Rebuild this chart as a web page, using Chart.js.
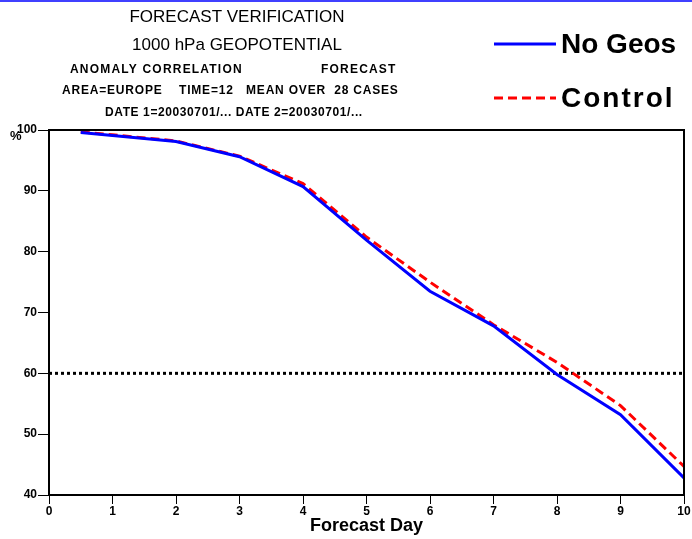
<!DOCTYPE html>
<html>
<head>
<meta charset="utf-8">
<script src="https://cdn.jsdelivr.net/npm/chart.js@4/dist/chart.umd.min.js"></script>
<style>
  body { margin: 0; background: #fff; }
  #wrap { position: relative; width: 692px; height: 539px; }
</style>
</head>
<body>
<div id="wrap"><canvas id="fcChart"></canvas></div>
<script>
// ========= DATA =========
const days = [0.5, 1, 2, 3, 4, 5, 6, 7, 8, 9, 10];
const noGeos = [99.6, 99.1, 98.1, 95.6, 90.7, 81.9, 73.5, 67.8, 59.8, 53.2, 42.8];
const control = [99.7, 99.2, 98.2, 95.7, 91.2, 82.4, 75.0, 68.0, 61.8, 54.7, 44.7];
const seriesNames = ['No Geos', 'Control'];
const xTicks = [0, 1, 2, 3, 4, 5, 6, 7, 8, 9, 10];
const yTicks = [40, 50, 60, 70, 80, 90, 100];
const refLevel = 60;

const FONT = '"Liberation Sans", Arial, sans-serif';

function spaced(ctx, text, x, y, spacing) {
    ctx.letterSpacing = spacing + 'px';
    ctx.fillText(text, x, y);
    ctx.letterSpacing = '0px';
}

// titles, legend, frame and 60% reference line
const decorPlugin = {
    id: 'decor',
    beforeDatasetsDraw(chart) {
        const ctx = chart.ctx;
        const a = chart.chartArea;
        const y60 = chart.scales.y.getPixelForValue(refLevel);
        ctx.save();
        ctx.strokeStyle = '#000';
        ctx.lineWidth = 3;
        ctx.setLineDash([3, 3]);
        ctx.beginPath();
        ctx.moveTo(a.left, y60);
        ctx.lineTo(a.right, y60);
        ctx.stroke();
        ctx.restore();
    },
    afterDraw(chart) {
        const ctx = chart.ctx;
        const a = chart.chartArea;
        ctx.save();
        // top blue rule
        ctx.fillStyle = '#4040ff';
        ctx.fillRect(0, 0, 692, 2);

        // frame
        ctx.strokeStyle = '#000';
        ctx.lineWidth = 2;
        ctx.beginPath();
        ctx.moveTo(a.left, a.top);
        ctx.lineTo(a.right, a.top);
        ctx.lineTo(a.right, a.bottom);
        ctx.stroke();

        ctx.fillStyle = '#000';
        ctx.textBaseline = 'middle';
        ctx.textAlign = 'center';
        ctx.font = '17px ' + FONT;
        ctx.fillText('FORECAST VERIFICATION', 237, 17);
        ctx.fillText('1000 hPa GEOPOTENTIAL', 237, 45);
        ctx.font = 'bold 12px ' + FONT;
        ctx.textAlign = 'left';
        spaced(ctx, 'ANOMALY CORRELATION', 70, 70, 1.2);
        spaced(ctx, 'FORECAST', 321, 70, 1.2);
        spaced(ctx, 'AREA=EUROPE    TIME=12   MEAN OVER  28 CASES', 62, 91, 0.8);
        spaced(ctx, 'DATE 1=20030701/... DATE 2=20030701/...', 105, 113, 0.6);
        ctx.font = 'bold 13px ' + FONT;
        ctx.fillText('%', 10, 136);

        // legend
        const ds = chart.data.datasets;
        const rows = [44, 98];
        const legSpacing = [0, 2];
        ds.forEach((d, i) => {
            ctx.strokeStyle = d.borderColor;
            ctx.lineWidth = 3;
            ctx.setLineDash(d.borderDash || []);
            ctx.beginPath();
            ctx.moveTo(494, rows[i]);
            ctx.lineTo(556, rows[i]);
            ctx.stroke();
            ctx.setLineDash([]);
            ctx.fillStyle = '#000';
            ctx.font = 'bold 28px ' + FONT;
            spaced(ctx, d.label, 561, rows[i] + 1, legSpacing[i]);
        });
        ctx.restore();
    }
};

const ctx = document.getElementById('fcChart').getContext('2d');
const fcChart = new Chart(ctx, {
    type: 'line',
    data: {
        datasets: [{
            label: seriesNames[0],
            data: days.map((d, i) => ({ x: d, y: noGeos[i] })),
            borderColor: '#0000ff',
            borderWidth: 3,
            pointRadius: 0,
            tension: 0
        }, {
            label: seriesNames[1],
            data: days.map((d, i) => ({ x: d, y: control[i] })),
            borderColor: '#ff0000',
            borderWidth: 3,
            borderDash: [9, 5],
            pointRadius: 0,
            tension: 0
        }]
    },
    options: {
        responsive: true,
        maintainAspectRatio: false,
        animation: false,
        layout: { padding: { top: 130, right: 8, left: 0, bottom: 0 } },
        plugins: {
            legend: { display: false },
            tooltip: { enabled: false }
        },
        scales: {
            x: {
                type: 'linear',
                min: 0,
                max: 10,
                afterFit: (s) => { s.height = 44; },
                afterBuildTicks: (s) => { s.ticks = xTicks.map(v => ({ value: v })); },
                border: { display: true, color: '#000', width: 2 },
                grid: { drawOnChartArea: false, drawTicks: true, tickLength: 9, color: '#000', lineWidth: 1 },
                ticks: { color: '#000', padding: 0, maxRotation: 0, font: { family: FONT, size: 12, weight: 'bold' } },
                title: {
                    display: true,
                    text: 'Forecast Day',
                    color: '#000',
                    padding: { top: 0, bottom: 2 },
                    font: { family: FONT, size: 18, weight: 'bold' }
                }
            },
            y: {
                min: 40,
                max: 100,
                afterFit: (s) => { s.width = 49; },
                afterBuildTicks: (s) => { s.ticks = yTicks.map(v => ({ value: v })); },
                border: { display: true, color: '#000', width: 2 },
                grid: { drawOnChartArea: false, drawTicks: true, tickLength: 11, color: '#000', lineWidth: 1 },
                ticks: { color: '#000', padding: 1, font: { family: FONT, size: 12, weight: 'bold' } }
            }
        }
    },
    plugins: [decorPlugin]
});
</script>
</body>
</html>
